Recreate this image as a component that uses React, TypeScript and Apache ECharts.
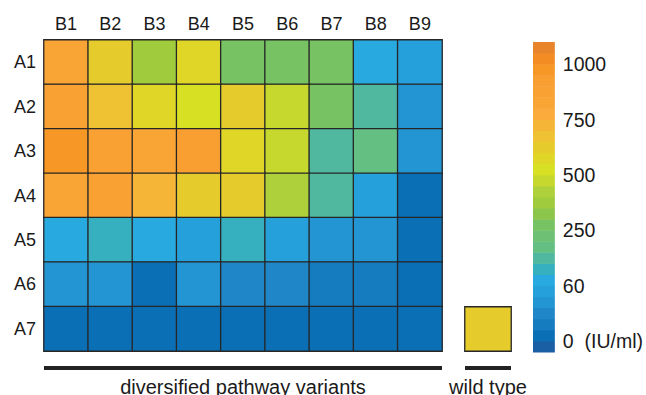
import React, { useEffect, useRef } from "react";
import * as echarts from "echarts";

const COLS = ["B1", "B2", "B3", "B4", "B5", "B6", "B7", "B8", "B9"];
const ROWS = ["A1", "A2", "A3", "A4", "A5", "A6", "A7"];

// IU/ml, row by row (A1..A7), columns B1..B9
const VALUES: number[][] = [
  [820, 620, 370, 570, 270, 270, 270, 75, 55],
  [870, 675, 570, 520, 620, 480, 270, 155, 42],
  [975, 870, 830, 920, 570, 480, 155, 190, 42],
  [825, 870, 720, 620, 620, 420, 155, 54, 5],
  [75, 115, 75, 54, 115, 54, 42, 42, 5],
  [42, 42, 5, 42, 30, 30, 18, 18, 5],
  [5, 5, 5, 5, 5, 5, 5, 5, 5],
];
const WILD_TYPE = 620;

// color bar: tick positions (in steps) and their labels
const TICK_LEVELS = [1, 6, 11, 16, 21, 26];
const TICK_VALUES = [0, 60, 250, 500, 750, 1000];
const TICK_LABELS = ["0\u00a0\u00a0(IU/ml)", "60", "250", "500", "750", "1000"];

// 28 color steps, bottom to top
const STEP_COLORS = [
  "#1a5fa3", "#0b6fb5", "#167cc0", "#1f86c8", "#2295d2", "#25a0da", "#28aae1",
  "#36b0bf", "#51b8a0", "#64bf83", "#6ec174", "#77c262", "#8bc64a", "#9fcb3c",
  "#aed03a", "#c6d82d", "#d7e022", "#e0d628", "#e5cb2b", "#eec232", "#f5b638",
  "#faab3b", "#f9a535", "#f9a233", "#f99e31", "#f79725", "#f38c22", "#e8852a",
];

function levelToValue(L: number): number {
  const n = TICK_LEVELS.length;
  if (L <= TICK_LEVELS[0]) {
    const s = (TICK_VALUES[1] - TICK_VALUES[0]) / (TICK_LEVELS[1] - TICK_LEVELS[0]);
    return TICK_VALUES[0] + (L - TICK_LEVELS[0]) * s;
  }
  for (let i = 0; i < n - 1; i++) {
    if (L <= TICK_LEVELS[i + 1]) {
      const t = (L - TICK_LEVELS[i]) / (TICK_LEVELS[i + 1] - TICK_LEVELS[i]);
      return TICK_VALUES[i] + t * (TICK_VALUES[i + 1] - TICK_VALUES[i]);
    }
  }
  const s = (TICK_VALUES[n - 1] - TICK_VALUES[n - 2]) / (TICK_LEVELS[n - 1] - TICK_LEVELS[n - 2]);
  return TICK_VALUES[n - 1] + (L - TICK_LEVELS[n - 1]) * s;
}

const FONT = "Liberation Sans, Arial, sans-serif";

export default function App() {
  const ref = useRef<HTMLDivElement>(null);
  useEffect(() => {
    if (!ref.current) return;
    const chart = echarts.init(ref.current, null, { renderer: "svg" });

    const heatData: number[][] = [];
    VALUES.forEach((row, yi) => row.forEach((v, xi) => heatData.push([xi, yi, v])));

    const pieces = STEP_COLORS.map((c, i) => ({
      gte: i === 0 ? -1e9 : levelToValue(i),
      lt: i === STEP_COLORS.length - 1 ? 1e9 : levelToValue(i + 1),
      color: c,
    }));

    const cellStyle = { borderColor: "#262626", borderWidth: 1.3 };

    const G = { left: 44, top: 40, width: 398, height: 311 };
    const W = { left: 465, top: 307, width: 46, height: 44 };
    const C = { left: 533, top: 42, width: 23, height: 310 };

    const option: any = {
      animation: false,
      textStyle: { fontFamily: FONT },
      grid: [{ ...G }, { ...W }, { ...C }],
      xAxis: [
        {
          gridIndex: 0,
          type: "category",
          data: COLS,
          position: "top",
          axisLine: { show: false },
          axisTick: { show: false },
          axisLabel: { color: "#1a1a1a", fontSize: 18, margin: 7, fontFamily: FONT },
        },
        { gridIndex: 1, type: "category", data: [""], show: false },
        { gridIndex: 2, type: "value", min: 0, max: 1, show: false },
      ],
      yAxis: [
        {
          gridIndex: 0,
          type: "category",
          data: ROWS,
          inverse: true,
          axisLine: { show: false },
          axisTick: { show: false },
          axisLabel: { color: "#1a1a1a", fontSize: 18, margin: 8, fontFamily: FONT },
        },
        { gridIndex: 1, type: "category", data: [""], show: false },
        {
          gridIndex: 2,
          type: "value",
          min: 0,
          max: STEP_COLORS.length,
          position: "right",
          axisLine: { show: false },
          axisTick: { show: false },
          splitLine: { show: false },
          axisLabel: {
            customValues: TICK_LEVELS,
            formatter: (v: number) => {
              const i = TICK_LEVELS.indexOf(v);
              return i >= 0 ? TICK_LABELS[i] : "";
            },
            color: "#1a1a1a",
            fontSize: 19.5,
            margin: 8,
            fontFamily: FONT,
          },
        },
      ],
      visualMap: {
        type: "piecewise",
        show: false,
        dimension: 2,
        seriesIndex: [0, 1],
        pieces,
      },
      series: [
        {
          type: "heatmap",
          xAxisIndex: 0,
          yAxisIndex: 0,
          data: heatData,
          itemStyle: cellStyle,
          emphasis: { disabled: true },
        },
        {
          type: "heatmap",
          xAxisIndex: 1,
          yAxisIndex: 1,
          data: [[0, 0, WILD_TYPE]],
          itemStyle: cellStyle,
          emphasis: { disabled: true },
        },
        {
          type: "custom",
          xAxisIndex: 2,
          yAxisIndex: 2,
          data: STEP_COLORS.map((_, i) => [0, i]),
          renderItem: (params: any, api: any) => {
            const i = api.value(1);
            const p0 = api.coord([0, i + 1]);
            const p1 = api.coord([1, i]);
            return {
              type: "rect",
              shape: { x: p0[0], y: p0[1], width: p1[0] - p0[0], height: p1[1] - p0[1] + 0.5 },
              style: { fill: STEP_COLORS[i] },
            };
          },
        },
      ],
      graphic: [
        { type: "rect", shape: { x: G.left, y: 366, width: G.width, height: 4 }, style: { fill: "#222" } },
        { type: "rect", shape: { x: W.left, y: 366, width: W.width, height: 4 }, style: { fill: "#222" } },
        {
          type: "text",
          x: G.left + G.width / 2,
          y: 387,
          style: {
            text: "diversified pathway variants",
            fontSize: 20,
            fontFamily: FONT,
            fill: "#1a1a1a",
            align: "center",
            verticalAlign: "middle",
          },
        },
        {
          type: "text",
          x: W.left + W.width / 2,
          y: 387,
          style: {
            text: "wild type",
            fontSize: 20,
            fontFamily: FONT,
            fill: "#1a1a1a",
            align: "center",
            verticalAlign: "middle",
          },
        },
      ],
    };
    chart.setOption(option);
    return () => chart.dispose();
  }, []);
  return (
    <div
      ref={ref}
      style={{ position: "fixed", left: 0, top: 0, width: 646, height: 395, background: "#fff" }}
    />
  );
}
